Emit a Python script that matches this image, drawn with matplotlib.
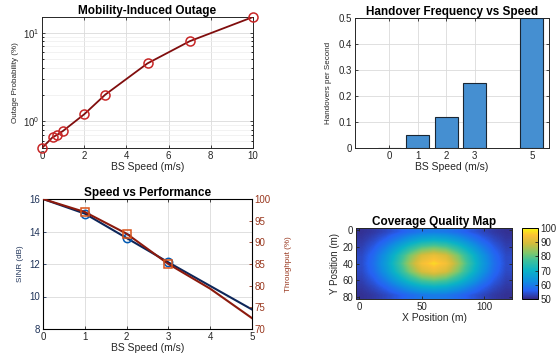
import numpy as np
import matplotlib
matplotlib.use("Agg")
import matplotlib.pyplot as plt
from matplotlib.colors import LinearSegmentedColormap
from matplotlib.ticker import LogLocator

plt.rcParams['font.family'] = ['Liberation Sans', 'DejaVu Sans']
plt.rcParams['mathtext.fontset'] = 'custom'
plt.rcParams['mathtext.rm'] = 'Liberation Sans'

# ---- data ----
outage_speed = [0, 0.5, 0.7, 1, 2, 3, 5, 7, 10]
outage_prob = [0.5, 0.66, 0.70, 0.78, 1.2, 2.0, 4.5, 8.0, 15.0]

ho_speed = [0, 1, 2, 3, 5]
ho_rate = [0.0, 0.05, 0.12, 0.25, 0.5]

perf_speed = [0, 1, 2, 3, 4, 5]
sinr_db = [16.0, 15.1, 13.6, 12.1, 10.65, 9.2]
throughput = [100, 97, 92, 85, 79.3, 72.5]

map_x = [0, 10, 20, 30, 40, 50, 60, 70, 80, 90, 100, 110, 120]
map_y = [0, 10, 20, 30, 40, 50, 60, 70, 80]
row_y0 = [50.8, 51.7, 53.3, 55.3, 57.5, 59.2, 59.9, 59.2, 57.5, 55.3, 53.3, 51.7, 50.8]
row_y10 = [51.6, 53.5, 56.4, 60.5, 64.8, 68.2, 69.5, 68.2, 64.8, 60.5, 56.4, 53.5, 51.6]
row_y20 = [52.6, 55.6, 60.5, 67.1, 74.1, 79.7, 81.8, 79.7, 74.1, 67.1, 60.5, 55.6, 52.6]
row_y30 = [53.5, 57.5, 64.1, 72.9, 82.3, 89.8, 92.6, 89.8, 82.3, 72.9, 64.1, 57.5, 53.5]
row_y40 = [53.9, 58.3, 65.5, 75.2, 85.6, 93.9, 97.0, 93.9, 85.6, 75.2, 65.5, 58.3, 53.9]
row_y50 = row_y30
row_y60 = row_y20
row_y70 = row_y10
row_y80 = row_y0
coverage = np.array([row_y0, row_y10, row_y20, row_y30, row_y40,
                     row_y50, row_y60, row_y70, row_y80])

# parula-like colormap
parula = LinearSegmentedColormap.from_list("parula", [
    (0.00, (0.208, 0.166, 0.529)),
    (0.12, (0.150, 0.380, 0.950)),
    (0.25, (0.060, 0.560, 0.880)),
    (0.40, (0.040, 0.700, 0.780)),
    (0.55, (0.250, 0.760, 0.600)),
    (0.65, (0.500, 0.780, 0.420)),
    (0.78, (0.820, 0.740, 0.240)),
    (0.90, (0.990, 0.760, 0.210)),
    (1.00, (0.976, 0.983, 0.054)),
])

W, H = 560, 358
fig = plt.figure(figsize=(W / 100, H / 100), dpi=100)

def pos(l, t, r, b):
    return [l / W, 1 - b / H, (r - l) / W, (b - t) / H]

TICK = 7
LAB = 7.5
YLAB = 5.8
TIT = 8.5
TXT = '0.15'
gridkw = dict(color='0.86', linewidth=0.6)

def style(ax):
    ax.tick_params(direction='in', labelsize=TICK, length=2.5, width=0.6,
                   top=True, right=True, pad=2, colors=TXT)
    for s in ax.spines.values():
        s.set_linewidth(0.7)
        s.set_color('0.15')

# ---- panel 1 ----
ax1 = fig.add_axes(pos(42, 17, 253, 148))
ax1.semilogy(outage_speed, outage_prob, '-', color=(0.5, 0.05, 0.05), lw=1.3, zorder=3)
ax1.semilogy(outage_speed, outage_prob, 'o', mfc='none', mec=(0.78, 0.15, 0.15),
             ms=6.5, mew=1.1, zorder=4, clip_on=False)
ax1.set_xlim(0, 10)
ax1.set_ylim(0.5, 15)
ax1.set_xticks([0, 2, 4, 6, 8, 10])
ax1.yaxis.set_major_locator(LogLocator(base=10, numticks=5))
ax1.yaxis.set_minor_locator(LogLocator(base=10, subs=np.arange(2, 10), numticks=10))
ax1.yaxis.set_minor_formatter(plt.NullFormatter())
ax1.grid(True, which='major', **gridkw)
ax1.grid(True, which='minor', color='0.93', linewidth=0.5)
style(ax1)
ax1.tick_params(which='minor', direction='in', length=1.5, right=True)
ax1.set_title('Mobility-Induced Outage', fontsize=TIT, fontweight='bold', pad=2)
ax1.set_xlabel('BS Speed (m/s)', fontsize=LAB, labelpad=1, color=TXT)
ax1.set_ylabel('Outage Probability (%)', fontsize=YLAB, labelpad=3, color=TXT)

# ---- panel 2 ----
ax2 = fig.add_axes(pos(355, 18, 549, 148))
ax2.bar(ho_speed, ho_rate, width=0.8, color=(0.27, 0.56, 0.82),
        edgecolor=(0.1, 0.15, 0.2), linewidth=0.8, zorder=3)
ax2.set_xlim(-1.2, 5.6)
ax2.set_ylim(0, 0.5)
ax2.set_xticks(ho_speed)
ax2.set_yticks([0, 0.1, 0.2, 0.3, 0.4, 0.5])
ax2.set_yticklabels(['0', '0.1', '0.2', '0.3', '0.4', '0.5'])
ax2.grid(True, **gridkw)
ax2.set_axisbelow(True)
style(ax2)
ax2.set_title('Handover Frequency vs Speed', fontsize=TIT, fontweight='bold', pad=2)
ax2.set_xlabel('BS Speed (m/s)', fontsize=LAB, labelpad=1, color=TXT)
ax2.set_ylabel('Handovers per Second', fontsize=YLAB, labelpad=5, color=TXT)

# ---- panel 3 ----
navy = (0.12, 0.2, 0.35)
brown = (0.6, 0.22, 0.12)
ax3 = fig.add_axes(pos(43, 199, 252, 329))
ax3.plot(perf_speed, sinr_db, '-', color=(0.05, 0.15, 0.35), lw=1.5, zorder=3)
ax3.plot(perf_speed, sinr_db, 'o', mfc='none', mec=(0.0, 0.35, 0.7), ms=6, mew=1.1,
         markevery=[1, 2, 3], zorder=4)
ax3.set_xlim(0, 5)
ax3.set_ylim(8, 16)
ax3.set_yticks([8, 10, 12, 14, 16])
ax3.grid(True, **gridkw)
ax3.tick_params(direction='in', labelsize=TICK, length=2.5, width=0.6, top=True, pad=2,
                colors=TXT)
ax3.tick_params(axis='y', colors=navy, labelcolor=navy)
for s in ax3.spines.values():
    s.set_linewidth(0.7)
    s.set_color('0.15')
ax3.set_title('Speed vs Performance', fontsize=TIT, fontweight='bold', pad=2)
ax3.set_xlabel('BS Speed (m/s)', fontsize=LAB, labelpad=1, color=TXT)
ax3.set_ylabel('SINR (dB)', fontsize=YLAB, color=navy, labelpad=4)

ax3r = ax3.twinx()
ax3r.plot(perf_speed, throughput, '-', color=(0.55, 0.1, 0.05), lw=1.5, zorder=3)
ax3r.plot(perf_speed, throughput, 's', mfc='none', mec=(0.85, 0.33, 0.1), ms=5.5,
          mew=1.1, markevery=[1, 2, 3], zorder=4)
ax3r.set_ylim(70, 100)
ax3r.set_yticks([70, 75, 80, 85, 90, 95, 100])
ax3r.tick_params(direction='in', labelsize=TICK, length=2.5, width=0.6, pad=2,
                 colors=brown, labelcolor=brown)
ax3r.set_ylabel('Throughput (%)', fontsize=YLAB, color=brown, labelpad=10)

# ---- panel 4 ----
ax4 = fig.add_axes(pos(356, 228, 512, 299))
im = ax4.imshow(coverage, cmap=parula, vmin=50, vmax=100, aspect='auto',
                interpolation='bilinear',
                extent=[map_x[0] - 2.5, map_x[-1] + 2.5, map_y[-1] + 2.5, map_y[0] - 2.5])
ax4.set_xlim(map_x[0] - 2.5, map_x[-1] + 2.5)
ax4.set_ylim(map_y[-1] + 2.5, map_y[0] - 2.5)
ax4.set_xticks([0, 50, 100])
ax4.set_yticks([0, 20, 40, 60, 80])
style(ax4)
ax4.set_title('Coverage Quality Map', fontsize=TIT, fontweight='bold', pad=2)
ax4.set_xlabel('X Position (m)', fontsize=LAB, labelpad=1, color=TXT)
ax4.set_ylabel('Y Position (m)', fontsize=LAB - 0.5, labelpad=2, color=TXT)

cax = fig.add_axes(pos(522, 228, 538, 299))
cb = fig.colorbar(im, cax=cax)
cb.set_ticks([50, 60, 70, 80, 90, 100])
cax.tick_params(direction='in', labelsize=TICK, length=2, width=0.6, pad=2, colors=TXT)
cb.outline.set_linewidth(0.7)

fig.savefig('out.png', dpi=100)
